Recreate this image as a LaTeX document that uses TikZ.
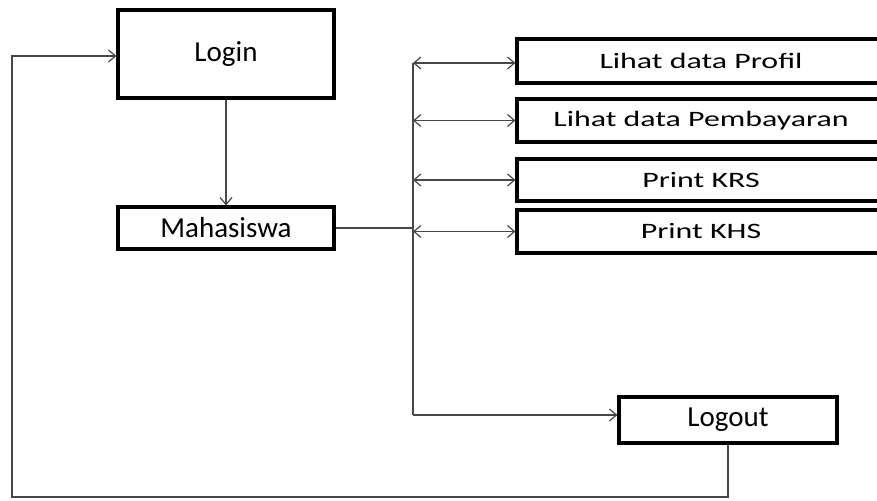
\documentclass[tikz,border=0pt]{standalone}
\usepackage{fontspec}
\setmainfont{Carlito}
\newfontfamily\widefont{Carlito}[FakeStretch=1.45]
\usetikzlibrary{arrows.meta}
\begin{document}
\begin{tikzpicture}[x=1pt,y=-1pt,
  >={Straight Barb[length=7pt,width=12pt,line width=1.2pt]},
  box/.style={draw=black,line width=3.2pt,rectangle,inner sep=0pt,font=\fontsize{29}{33}\selectfont},
  wbox/.style={draw=black,line width=3.2pt,rectangle,inner sep=0pt,minimum width=368pt,font=\widefont\fontsize{22}{26}\selectfont},
  conn/.style={draw=black!72,line width=1.4pt}
]
\useasboundingbox (0,0) rectangle (877,500);
\clip (0,0) rectangle (877,500);
\fill[white] (0,0) rectangle (877,500);

\node[box,minimum width=216pt,minimum height=88pt] (login) at (226,54) {Login};
\node[box,minimum width=216pt,minimum height=42pt] (mhs) at (226,228) {Mahasiswa};
\node[wbox,minimum height=44pt] (profil) at (701,61) {Lihat data Profil};
\node[wbox,minimum height=43pt] (bayar) at (701,120.5) {Lihat data Pembayaran};
\node[wbox,minimum height=42pt] (krs) at (701,180) {Print KRS};
\node[wbox,minimum height=43pt] (khs) at (701,231.5) {Print KHS};
\node[box,minimum width=218pt,minimum height=46pt] (logout) at (728,420) {Logout};

\coordinate (bt) at (413,63);
\coordinate (bm) at (413,228);
\coordinate (bb) at (413,415);
\coordinate (corner) at (12,497);

\draw[conn,->] (login) -- (mhs);
\draw[conn] (mhs.east) -- (bm);
\draw[conn] (bt) -- (bb);
\draw[conn,<->] (bt) -- (profil.west |- bt);
\draw[conn,<->] (bt |- bayar.west) -- (bayar.west);
\draw[conn,<->] (bt |- krs.west) -- (krs.west);
\draw[conn,<->] (bt |- khs.west) -- (khs.west);
\draw[conn,->] (bb) -- (logout.west |- bb);
\draw[conn,->] (logout.south) |- (corner) |- ([yshift=-2pt]login.west);
\end{tikzpicture}
\end{document}
